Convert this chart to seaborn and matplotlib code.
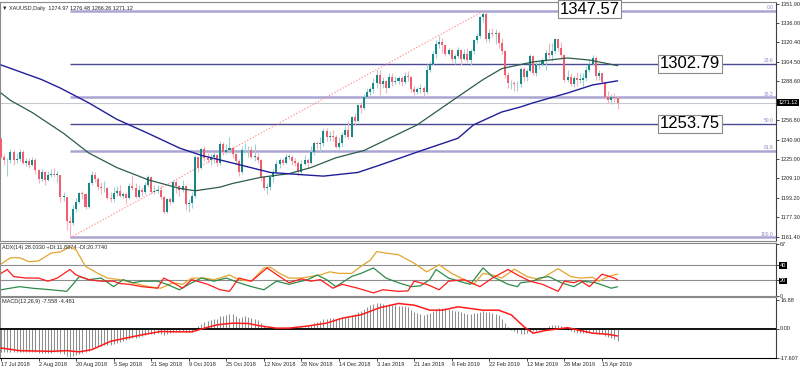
import matplotlib
matplotlib.use("Agg")
import matplotlib.pyplot as plt
import matplotlib.transforms as mtransforms
import numpy as np
import seaborn as sns

# ---- daily candles, bar 0 = 17 Jul 2018 ... bar 197 = 23 Apr 2019 ----
opens = [
    1241, 1227, 1224, 1224, 1231, 1224, 1225, 1231, 1222, 1223,
    1220, 1224, 1216, 1209, 1214, 1208, 1212, 1213, 1212, 1212,
    1194, 1194, 1174, 1173, 1184, 1190, 1197, 1196, 1186, 1205,
    1212, 1209, 1202, 1201, 1201, 1193, 1192, 1197, 1199, 1195,
    1196, 1193, 1203, 1201, 1194, 1200, 1198, 1204, 1210, 1198,
    1199, 1200, 1194, 1182, 1192, 1190, 1206, 1203, 1200, 1203,
    1188, 1189, 1195, 1227, 1218, 1233, 1226, 1224, 1227, 1228,
    1222, 1237, 1231, 1232, 1234, 1229, 1223, 1214, 1232, 1232,
    1232, 1227, 1227, 1224, 1210, 1201, 1202, 1210, 1214, 1221,
    1224, 1222, 1227, 1227, 1223, 1222, 1214, 1221, 1224, 1222,
    1231, 1238, 1237, 1238, 1248, 1243, 1244, 1243, 1235, 1238,
    1245, 1249, 1243, 1259, 1256, 1269, 1267, 1276, 1280, 1282,
    1287, 1294, 1286, 1289, 1283, 1292, 1288, 1289, 1291, 1288,
    1293, 1292, 1282, 1280, 1282, 1283, 1280, 1298, 1303, 1311,
    1319, 1321, 1318, 1311, 1314, 1307, 1309, 1314, 1307, 1311,
    1306, 1313, 1322, 1326, 1341, 1344, 1323, 1328, 1327, 1328,
    1320, 1313, 1294, 1287, 1287, 1286, 1286, 1299, 1292, 1297,
    1309, 1295, 1302, 1303, 1306, 1312, 1310, 1313, 1323, 1316,
    1310, 1290, 1292, 1286, 1291, 1290, 1290, 1291, 1298, 1303,
    1308, 1293, 1295, 1288, 1276, 1273, 1276, 1274.97,
]
highs = [
    1243, 1229, 1226, 1233, 1232, 1230, 1233, 1232, 1226, 1226,
    1227, 1226, 1217, 1217, 1215, 1215, 1217, 1218, 1215, 1212,
    1198, 1194, 1178, 1187, 1193, 1198, 1199, 1197, 1206, 1215,
    1214, 1210, 1206, 1207, 1202, 1198, 1202, 1203, 1204, 1198,
    1198, 1205, 1212, 1205, 1204, 1202, 1206, 1212, 1211, 1204,
    1204, 1204, 1195, 1193, 1194, 1208, 1208, 1204, 1208, 1204,
    1192, 1198, 1228, 1227, 1234, 1236, 1230, 1229, 1231, 1229,
    1240, 1239, 1237, 1243, 1236, 1230, 1225, 1236, 1238, 1236,
    1236, 1237, 1230, 1225, 1211, 1205, 1212, 1217, 1224, 1226,
    1226, 1229, 1229, 1228, 1226, 1223, 1224, 1228, 1226, 1236,
    1240, 1240, 1243, 1250, 1250, 1248, 1249, 1245, 1243, 1247,
    1252, 1256, 1260, 1263, 1270, 1272, 1278, 1283, 1284, 1291,
    1298, 1298, 1292, 1290, 1295, 1295, 1293, 1293, 1293, 1296,
    1297, 1293, 1285, 1284, 1286, 1285, 1303, 1305, 1313, 1322,
    1326, 1324, 1318, 1316, 1315, 1311, 1317, 1315, 1315, 1316,
    1315, 1323, 1328, 1342, 1346, 1345, 1331, 1332, 1331, 1330,
    1324, 1314, 1296, 1290, 1289, 1289, 1300, 1300, 1299, 1311,
    1310, 1304, 1305, 1308, 1314, 1320, 1320, 1324, 1323, 1321,
    1311, 1298, 1295, 1293, 1296, 1295, 1295, 1301, 1306, 1310,
    1309, 1298, 1295, 1289, 1281, 1278, 1279, 1276.48,
]
lows = [
    1226, 1220, 1211, 1222, 1220, 1222, 1223, 1221, 1219, 1218,
    1219, 1213, 1205, 1207, 1204, 1207, 1210, 1210, 1206, 1190,
    1191, 1167, 1160.4, 1171, 1182, 1189, 1192, 1184, 1185, 1204,
    1206, 1200, 1196, 1198, 1192, 1190, 1190, 1195, 1194, 1193,
    1188, 1192, 1200, 1193, 1193, 1195, 1196, 1202, 1196, 1196,
    1197, 1192, 1180, 1181, 1187, 1189, 1197, 1195, 1198, 1183,
    1182, 1185, 1193, 1214, 1217, 1223, 1222, 1220, 1222, 1219,
    1220, 1228, 1229, 1230, 1226, 1220, 1211, 1213, 1230, 1227,
    1226, 1223, 1222, 1207, 1200, 1196, 1200, 1206, 1213, 1218,
    1220, 1221, 1225, 1220, 1219, 1211, 1213, 1220, 1218, 1221,
    1228, 1233, 1231, 1236, 1240, 1240, 1240, 1234, 1233, 1235,
    1243, 1241, 1243, 1253, 1255, 1263, 1265, 1275, 1277, 1279,
    1283, 1277, 1283, 1279, 1283, 1285, 1286, 1286, 1285, 1286,
    1289, 1280, 1277, 1278, 1279, 1276, 1278, 1296, 1302, 1308,
    1316, 1312, 1309, 1310, 1304, 1303, 1308, 1302, 1306, 1304,
    1302, 1311, 1320, 1324, 1337, 1321, 1321, 1325, 1319, 1316,
    1311, 1291, 1283, 1282, 1281, 1281, 1284, 1289, 1289, 1296,
    1294, 1293, 1299, 1301, 1298, 1308, 1305, 1312, 1313, 1308,
    1288, 1288, 1285, 1284, 1285, 1287, 1285, 1289, 1296, 1302,
    1290, 1290, 1286, 1275, 1271, 1270, 1272, 1266.26,
]
closes = [
    1227, 1224, 1224, 1231, 1224, 1225, 1231, 1222, 1223, 1220,
    1224, 1216, 1209, 1214, 1208, 1212, 1213, 1212, 1212, 1194,
    1194, 1174, 1173, 1184, 1190, 1197, 1196, 1186, 1205, 1212,
    1209, 1202, 1201, 1201, 1193, 1192, 1197, 1199, 1195, 1196,
    1193, 1203, 1201, 1194, 1200, 1198, 1204, 1210, 1198, 1199,
    1200, 1194, 1182, 1192, 1190, 1206, 1203, 1200, 1203, 1188,
    1189, 1195, 1227, 1218, 1233, 1226, 1224, 1227, 1228, 1222,
    1237, 1231, 1232, 1234, 1229, 1223, 1214, 1232, 1232, 1232,
    1227, 1227, 1224, 1210, 1201, 1202, 1210, 1214, 1221, 1224,
    1222, 1227, 1227, 1223, 1222, 1214, 1221, 1224, 1222, 1231,
    1238, 1237, 1238, 1248, 1243, 1244, 1243, 1235, 1238, 1245,
    1249, 1243, 1259, 1256, 1269, 1267, 1276, 1280, 1282, 1287,
    1294, 1286, 1289, 1283, 1292, 1288, 1289, 1291, 1288, 1293,
    1292, 1282, 1280, 1282, 1283, 1280, 1298, 1303, 1311, 1319,
    1321, 1318, 1311, 1314, 1307, 1309, 1314, 1307, 1311, 1306,
    1313, 1322, 1326, 1341, 1344, 1323, 1328, 1327, 1328, 1320,
    1313, 1294, 1287, 1287, 1286, 1286, 1299, 1292, 1297, 1309,
    1295, 1302, 1303, 1306, 1312, 1310, 1313, 1323, 1316, 1310,
    1290, 1292, 1286, 1291, 1290, 1290, 1291, 1298, 1303, 1308,
    1293, 1295, 1288, 1276, 1273, 1276, 1275, 1271.12,
]

# moving averages read at sample bars
ma_fast_bars = [0, 3, 10, 20, 28, 37, 47, 57, 62, 70, 74, 83, 92, 99, 107,
                116, 133, 146, 154, 160, 170, 181, 188, 197]
ma_fast_vals = [1279, 1273, 1263, 1246, 1230, 1218, 1208, 1201, 1199, 1202,
                1205, 1210, 1213, 1218, 1226, 1232, 1253, 1276, 1290, 1299,
                1304.5, 1307.7, 1306, 1301.4]
ma_slow_bars = [0, 13, 19, 28, 37, 47, 57, 64, 74, 86, 97, 103, 114, 121,
                134, 146, 151, 160, 166, 170, 181, 189, 197]
ma_slow_vals = [1302, 1290, 1283, 1271, 1257.5, 1246, 1234, 1228, 1221.7,
                1214, 1212, 1211, 1214, 1220, 1231.6, 1242, 1253, 1263.5,
                1267.6, 1271, 1279, 1285.6, 1289]

# fibonacci retracement (levels)
swing_bars = [22, 154]
fib_names = ["0.0", "23.6", "38.2", "50.0", "61.8", "100.0"]
fib_prices = [1346.0, 1302.6, 1275.5, 1253.6, 1231.6, 1160.9]
fib_strong = [False, True, False, True, False, False]
box_values = [1347.57, 1302.79, 1253.75]
last_price = 1271.12
price_ticks = [1351.90, 1336.00, 1320.40, 1304.50, 1288.60, 1256.80,
               1240.90, 1225.00, 1209.10, 1193.20, 1177.30, 1161.40]

# ADX(14)
adx_bars = [0, 3, 6, 9, 12, 16, 19, 22, 24, 27, 31, 34, 38, 42, 47, 51, 55,
            58, 61, 65, 68, 70, 73, 76, 80, 84, 86, 89, 92, 96, 99, 102, 105,
            108, 112, 115, 118, 120, 123, 127, 132, 136, 140, 144, 149, 151,
            154, 157, 160, 164, 168, 172, 178, 182, 185, 189, 191, 194, 197]
adx_vals = [41, 49, 49, 44, 45, 55, 56.6, 63, 59, 38, 29, 23, 21, 17, 12, 10,
            17, 15, 23, 23, 21, 23, 27, 21, 19, 36, 37, 29, 23, 23, 25, 27, 31,
            29, 29, 38, 46, 57, 55, 53, 42, 31, 40, 29, 19, 15, 29, 27, 23,
            34.5, 25, 21, 35, 25, 23, 24, 19, 25, 28.03]
pdi_bars = [0, 6, 10, 16, 21, 23, 25, 28, 32, 36, 39, 42, 45, 50, 53, 57,
            60, 64, 68, 72, 76, 80, 84, 88, 92, 98, 101, 104, 107, 112, 115,
            119, 123, 127, 131, 134, 137, 139, 143, 148, 150, 154, 157, 162,
            165, 166, 170, 172, 175, 179, 183, 186, 190, 195, 197]
pdi_vals = [8, 12, 10, 8, 6, 15, 25, 21, 23, 12, 21, 17, 19, 19, 15, 8, 15,
            23, 19, 23, 17, 12, 8, 19, 15, 21, 27, 21, 12, 25, 29, 36, 23, 17,
            12, 13, 21, 34, 23, 17, 15, 36, 25, 15, 12, 17, 19, 23, 25, 17,
            12, 19, 17, 10, 11.89]
mdi_bars = [0, 2, 4, 8, 12, 15, 18, 22, 24, 28, 32, 36, 38, 41, 45, 50, 52,
            55, 58, 61, 66, 70, 73, 76, 80, 85, 89, 92, 96, 99, 102, 106, 109,
            114, 119, 122, 127, 130, 132, 136, 140, 143, 148, 153, 157, 162,
            165, 169, 173, 178, 180, 183, 185, 188, 192, 196, 197]
mdi_vals = [29, 34, 25, 23, 23, 19, 23, 34, 27, 21, 19, 19, 16, 15, 12, 10,
            23, 17, 10, 21, 15, 8, 6, 23, 19, 36, 25, 17, 22, 19, 21, 10, 15,
            10, 4, 8, 6, 6.5, 19, 15, 8, 19, 21, 12, 23, 34, 27, 19, 15, 6,
            19, 17, 20, 12, 28, 23, 20.77]

# MACD(12,26,9): main line per bar (histogram) and signal at sample bars
macd_main = [
    -13.8, -13.9, -14.0, -13.8, -13.9, -14.0,
    -14.1, -14.0, -13.9, -14.0, -14.1, -14.2, -14.5, -14.4, -14.6, -14.5,
    -14.4, -14.3, -14.2, -14.8,
    -15.5, -16.5, -16.9, -16.6, -16.0,
    -15.2, -14.6, -14.3, -13.2, -11.8, -10.9, -10.5,
    -10.2, -9.9, -9.8, -9.6, -9.0, -8.4, -7.9, -7.4, -7.0, -6.2, -5.6,
    -5.4, -4.9, -4.6, -4.0, -3.3, -3.2, -3.0, -2.8, -3.0, -3.6, -3.1,
    -2.9, -2.1, -1.8, -1.7, -1.4, -1.9, -2.1, -1.9, 0.6,
    1.4, 3.0, 3.8, 4.4, 5.2, 5.8, 5.9, 7.4, 7.8, 8.3, 9.0, 8.6,
    7.8, 6.6, 7.2, 7.3, 7.1, 6.3, 5.9, 5.1, 3.5, 1.6,
    0.2, -0.3, -0.5, -0.3, 0.0, 0.4,
    0.8, 1.1, 1.2, 1.2, 0.6, 0.8, 1.1, 1.3, 2.2, 3.3,
    4.0, 4.7, 5.8, 6.0, 6.2, 6.2, 5.5, 5.5,
    6.1, 6.8, 6.8, 7.9, 8.6, 10.0, 10.7, 12.0, 13.1,
    13.9, 14.7, 15.4, 15.2, 15.0, 14.4, 14.5, 14.2, 13.9, 13.6,
    13.5, 13.7, 12.8, 11.4, 10.2, 9.4, 8.6,
    7.9, 8.7, 9.4, 10.6,
    11.9, 12.5, 12.6, 12.1, 11.8, 11.0,
    10.7, 10.6, 9.7, 9.5, 9.0,
    9.0, 9.3, 9.6, 10.2, 10.6, 10.0, 9.7, 9.4, 9.0, 8.0,
    5.9, 3.2, 1.1,
    -0.8, -1.6, -2.4, -3.2, -3.0, -2.9,
    -1.6, -1.5, -1.4, -1.0, -0.6, 0.3,
    1.4, 2.0, 2.4, 2.2, 1.6, -0.3,
    -1.0, -1.6, -2.0, -2.4, -2.6, -2.8, -2.5,
    -2.4, -2.2, -2.6, -3.2, -3.5, -4.4, -5.1, -5.5,
    -6.4, -7.558,
]
signal_bars = [0, 6, 16, 21, 25, 29, 35, 40, 45, 51, 56, 61, 65, 69, 74, 79,
               83, 88, 92, 98, 104, 109, 115, 121, 127, 132, 137, 141, 146,
               150, 154, 159, 163, 167, 170, 174, 179, 181, 185, 189, 194, 197]
signal_vals = [-11.7, -13.3, -13.7, -13.3, -14.0, -12.7, -7.7, -5.7, -3.8,
               -1.8, -2.0, -2.0, 0.2, 2.2, 3.2, 3.0, 1.5, 0.2, 0.2, 1.5, 3.2,
               6.2, 8.2, 12.5, 15.0, 14.0, 11.0, 11.0, 13.0, 12.0, 11.0, 11.0,
               8.2, 1.2, -2.8, -1.2, 0.0, 0.5, -1.2, -2.8, -3.5, -4.481]

date_labels = ["17 Jul 2018", "2 Aug 2018", "20 Aug 2018", "5 Sep 2018",
               "21 Sep 2018", "9 Oct 2018", "25 Oct 2018", "12 Nov 2018",
               "28 Nov 2018", "14 Dec 2018", "3 Jan 2019", "21 Jan 2019",
               "6 Feb 2019", "22 Feb 2019", "12 Mar 2019", "28 Mar 2019",
               "15 Apr 2019"]
date_every = 12


def plot_xauusd_daily():
    sns.set_style("white")
    plt.rcParams["font.family"] = ["Liberation Sans", "DejaVu Sans"]

    W, H = 800, 370
    fig = plt.figure(figsize=(8, 3.7), dpi=100)

    def rect(x0, y0, x1, y1):
        return [x0 / W, 1 - y1 / H, (x1 - x0) / W, (y1 - y0) / H]

    ax = fig.add_axes(rect(0, 2, 776, 241))
    ax_adx = fig.add_axes(rect(0, 243, 776, 296), sharex=ax)
    ax_macd = fig.add_axes(rect(0, 297, 776, 358), sharex=ax)

    bars = np.arange(len(closes))
    o = np.array(opens)
    c = np.array(closes)
    up = c >= o

    # candles
    wick_col = np.where(up, "#9ed2d2", "#f6b1ba")
    body_col = np.where(up, "#168888", "#ef5f6d")
    ax.vlines(bars, lows, highs, colors=wick_col, lw=0.8, zorder=3)
    body = np.where(np.abs(c - o) < 0.4, 0.4, c - o)
    ax.bar(bars, body, bottom=o, width=0.65, color=body_col,
           linewidth=0, zorder=4)

    # moving averages
    sns.lineplot(x=ma_fast_bars, y=ma_fast_vals, ax=ax, color="#2c5b4c",
                 linewidth=0.9, zorder=5)
    sns.lineplot(x=ma_slow_bars, y=ma_slow_vals, ax=ax, color="#1f1f9a",
                 linewidth=1.0, zorder=5)

    xmax = 775 / 3.13
    ax.set_xlim(-1 / 3.13, xmax)
    ax.set_ylim(1157.9, 1353.5)

    tr = mtransforms.blended_transform_factory(ax.transAxes, ax.transData)

    # fibonacci levels + swing line
    for name, p, strong in zip(fib_names, fib_prices, fib_strong):
        ax.hlines(p, swing_bars[0], xmax,
                  colors="#4a4a92" if strong else "#aaa5d3",
                  lw=1.0 if strong else 1.8, zorder=2)
        ax.text(0.997, p + 0.6, name, transform=tr, ha="right", va="bottom",
                fontsize=3.6, color="#8c88c4", zorder=6)
    ax.plot(swing_bars, [lows[swing_bars[0]], fib_prices[0]], color="#ff8f8f",
            lw=0.8, ls=(0, (1.2, 1.6)), zorder=2)
    ax.axhline(last_price, color="#c4cad0", lw=0.8, zorder=1)

    for xa, v in zip([0.760, 0.889, 0.889], box_values):
        ax.text(xa, v, f"{v:.2f}", transform=tr, ha="center", va="center",
                fontsize=12, family=["Liberation Sans Narrow", "Liberation Sans"],
                color="black", zorder=8, clip_on=False,
                bbox=dict(boxstyle="square,pad=0.1", fc="white",
                          ec="#8a8a8a", lw=0.8))

    ax.text(1.003, last_price, f"{last_price:.2f}", transform=tr, ha="left",
            va="center", fontsize=3.8, color="white", clip_on=False,
            bbox=dict(boxstyle="square,pad=0.25", fc="black", ec="none"))
    ax.text(0.003, 0.985, "\u25bc XAUUSD,Daily  1274.97 1276.48 1266.26 1271.12",
            transform=ax.transAxes, fontsize=4, va="top", ha="left")

    ax.yaxis.tick_right()
    ax.set_yticks(price_ticks)
    ax.set_yticklabels([f"{v:.2f}" for v in price_ticks])

    # ADX panel
    ax_adx.axhline(40, color="#8c8c8c", lw=0.8, zorder=1)
    ax_adx.axhline(20, color="#8c8c8c", lw=0.8, zorder=1)
    sns.lineplot(x=adx_bars, y=adx_vals, ax=ax_adx, color="#e3a52e",
                 linewidth=0.9)
    sns.lineplot(x=pdi_bars, y=pdi_vals, ax=ax_adx, color="#2e8b4a",
                 linewidth=0.9)
    sns.lineplot(x=mdi_bars, y=mdi_vals, ax=ax_adx, color="#ff1c1c",
                 linewidth=0.9)
    ax_adx.set_ylim(0, 68)
    ax_adx.yaxis.tick_right()
    ax_adx.set_yticks([67, 40, 20, 0])
    for t in ax_adx.set_yticklabels(["67", "40", "20", "0"]):
        if t.get_text() in ("40", "20"):
            t.set_color("white")
            t.set_bbox(dict(boxstyle="square,pad=0.15", fc="black", ec="none"))
    ax_adx.text(0.003, 0.97, "ADX(14) 28.0330 +DI:11.8874 -DI:20.7740",
                transform=ax_adx.transAxes, fontsize=4, va="top", ha="left")

    # MACD panel
    ax_macd.vlines(bars, 0, macd_main, colors="#8e8e8e", lw=0.75, zorder=2)
    ax_macd.axhline(0, color="black", lw=1.3, zorder=3)
    sns.lineplot(x=signal_bars, y=signal_vals, ax=ax_macd, color="#ff1a1a",
                 linewidth=1.1, zorder=4)
    ax_macd.set_ylim(-17.7, 18.9)
    ax_macd.yaxis.tick_right()
    ax_macd.set_yticks([16.88, 0, -17.607])
    ax_macd.set_yticklabels(["16.88", "0.00", "-17.607"])
    ax_macd.text(0.003, 0.97, "MACD(12,26,9) -7.558 -4.481",
                 transform=ax_macd.transAxes, fontsize=4, va="top", ha="left")

    ax_macd.set_xticks(np.arange(len(date_labels)) * date_every)
    ax_macd.set_xticklabels(date_labels)
    for t in ax_macd.get_xticklabels():
        t.set_ha("left")

    for a in (ax, ax_adx, ax_macd):
        a.set_xlabel("")
        a.set_ylabel("")
        a.tick_params(axis="y", length=2, width=0.6, pad=1, labelsize=4,
                      right=True, left=False, direction="out")
        for s in ("top", "left", "bottom"):
            a.spines[s].set_color("#8a8a8a")
            a.spines[s].set_linewidth(0.8)
        a.spines["right"].set_color("#404040")
        a.spines["right"].set_linewidth(0.8)
    for a in (ax, ax_adx):
        a.tick_params(axis="x", bottom=False, labelbottom=False)
    ax_macd.spines["bottom"].set_color("black")
    ax_macd.tick_params(axis="x", length=2, width=0.6, pad=1, labelsize=4,
                        direction="out", bottom=True)

    fig.savefig("out.png", dpi=100)
    plt.close(fig)


if __name__ == "__main__":
    plot_xauusd_daily()
